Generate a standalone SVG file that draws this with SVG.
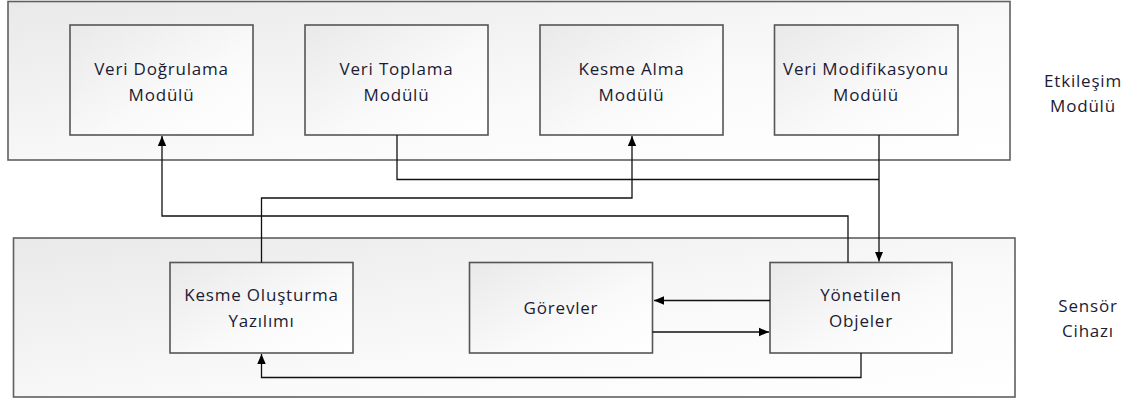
<svg xmlns="http://www.w3.org/2000/svg" width="1133" height="400" viewBox="0 0 1133 400">
  <defs>
    <linearGradient id="shade" x1="0" y1="0" x2="1" y2="1">
      <stop offset="0" stop-color="#e9e9e9"/>
      <stop offset="0.6" stop-color="#fafafa"/>
      <stop offset="1" stop-color="#ffffff"/>
    </linearGradient>
    <marker id="arrow" viewBox="0 0 10 10" refX="10" refY="5" markerWidth="10" markerHeight="10" markerUnits="userSpaceOnUse" orient="auto">
      <path d="M0,0.8 L10,5 L0,9.2 z" fill="#000"/>
    </marker>
  </defs>
  <style>
    .frame { fill: url(#shade); stroke: #606060; stroke-width: 1.6; }
    .box { fill: url(#shade); stroke: #555; stroke-width: 1.6; }
    .label { font-family: "Open Sans", "Liberation Sans", sans-serif; font-size: 17px; letter-spacing: 0.8px; fill: #1b1b33; text-anchor: middle; }
    .link { fill: none; stroke: #111; stroke-width: 1.3; }
    .arrowed { marker-end: url(#arrow); }
  </style>
  <rect width="1133" height="400" fill="#fff"/>

  <!-- Containers -->
  <g id="etkilesim-modulu">
    <rect class="frame" x="8" y="1.5" width="1002" height="158.5"/>
    <text class="label" x="1083" y="87">Etkileşim</text>
    <text class="label" x="1083" y="112">Modülü</text>
  </g>
  <g id="sensor-cihazi">
    <rect class="frame" x="13.5" y="238" width="1001.5" height="159"/>
    <text class="label" x="1088" y="312">Sensör</text>
    <text class="label" x="1088" y="337">Cihazı</text>
  </g>

  <!-- Upper modules -->
  <g id="veri-dogrulama">
    <rect class="box" x="70" y="25" width="183" height="110"/>
    <text class="label" x="161.5" y="75">Veri Doğrulama</text>
    <text class="label" x="161.5" y="101">Modülü</text>
  </g>
  <g id="veri-toplama">
    <rect class="box" x="305" y="25" width="183" height="110"/>
    <text class="label" x="396.5" y="75">Veri Toplama</text>
    <text class="label" x="396.5" y="101">Modülü</text>
  </g>
  <g id="kesme-alma">
    <rect class="box" x="540" y="25" width="183" height="110"/>
    <text class="label" x="631.5" y="75">Kesme Alma</text>
    <text class="label" x="631.5" y="101">Modülü</text>
  </g>
  <g id="veri-modifikasyonu">
    <rect class="box" x="774.5" y="25" width="183.5" height="110"/>
    <text class="label" x="866" y="75">Veri Modifikasyonu</text>
    <text class="label" x="866" y="101">Modülü</text>
  </g>

  <!-- Device components -->
  <g id="kesme-olusturma">
    <rect class="box" x="170" y="262.5" width="183" height="90.5"/>
    <text class="label" x="261.5" y="301">Kesme Oluşturma</text>
    <text class="label" x="261.5" y="327">Yazılımı</text>
  </g>
  <g id="gorevler">
    <rect class="box" x="469.5" y="262.5" width="183" height="90.5"/>
    <text class="label" x="561" y="314">Görevler</text>
  </g>
  <g id="yonetilen-objeler">
    <rect class="box" x="770" y="262.5" width="182" height="90.5"/>
    <text class="label" x="861" y="301">Yönetilen</text>
    <text class="label" x="861" y="327">Objeler</text>
  </g>

  <!-- Connectors -->
  <g id="connectors">
    <path class="link arrowed" d="M848,262.5 V216 H162 V136"/>
    <path class="link arrowed" d="M261.5,262.5 V198 H632 V136"/>
    <path class="link" d="M397,135 V179.5 H879"/>
    <path class="link arrowed" d="M879,135 V261.5"/>
    <path class="link arrowed" d="M770,300.5 H654"/>
    <path class="link arrowed" d="M652.5,332 H769"/>
    <path class="link arrowed" d="M861,353 V377.5 H261.5 V354"/>
  </g>
</svg>
